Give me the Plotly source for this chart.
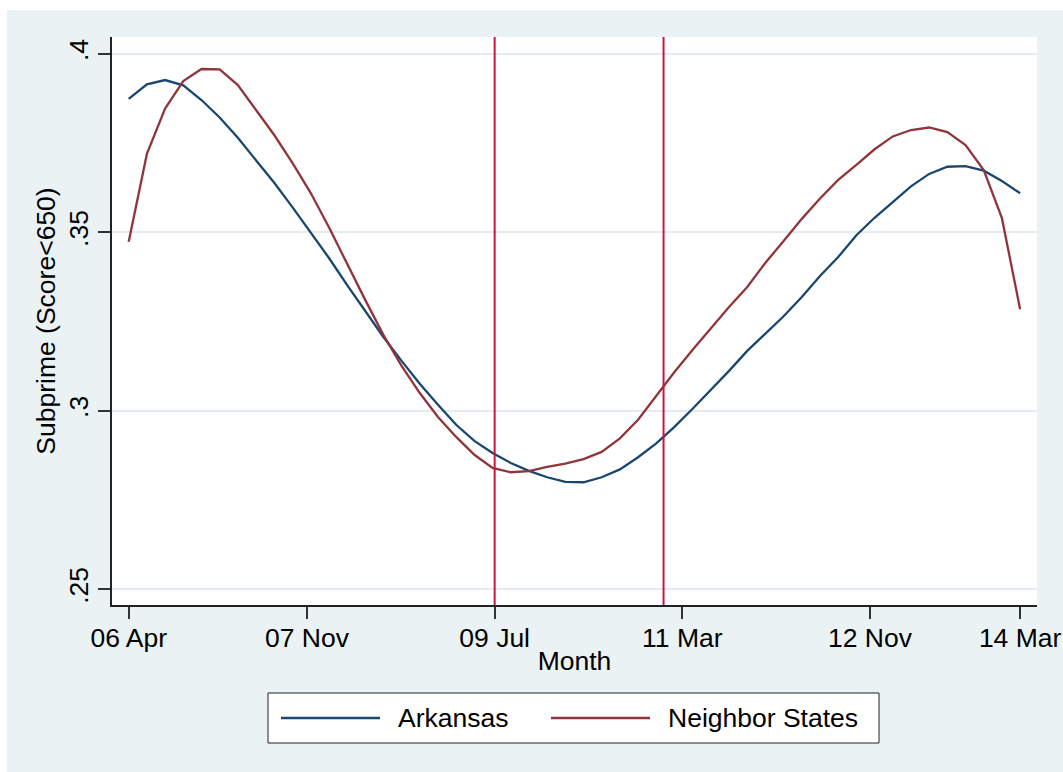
import numpy as np
import plotly.graph_objects as go

# Stata monthly dates (2006m4 = 555 ... 2014m3 = 650); smoothed on a 50-point grid
grid_start, grid_end, grid_n = 555, 650, 50
month_grid = np.linspace(grid_start, grid_end, grid_n)

arkansas = [
    0.3874, 0.3915, 0.3927, 0.3912, 0.3871, 0.3822, 0.3765, 0.3703, 0.3639, 0.3571,
    0.3499, 0.3429, 0.3353, 0.3280, 0.3207, 0.3140, 0.3076, 0.3017, 0.2961, 0.2916,
    0.2882, 0.2854, 0.2832, 0.2814, 0.2801, 0.2800, 0.2814, 0.2836, 0.2870, 0.2909,
    0.2955, 0.3006, 0.3059, 0.3112, 0.3168, 0.3216, 0.3265, 0.3319, 0.3378, 0.3431,
    0.3492, 0.3541, 0.3585, 0.3629, 0.3664, 0.3684, 0.3686, 0.3673, 0.3644, 0.3610,
]
neighbors = [
    0.3474, 0.3720, 0.3847, 0.3924, 0.3958, 0.3957, 0.3913, 0.3843, 0.3773, 0.3695,
    0.3611, 0.3515, 0.3412, 0.3311, 0.3213, 0.3126, 0.3050, 0.2983, 0.2927, 0.2877,
    0.2840, 0.2828, 0.2831, 0.2843, 0.2852, 0.2865, 0.2885, 0.2923, 0.2975, 0.3042,
    0.3109, 0.3171, 0.3232, 0.3291, 0.3347, 0.3415, 0.3476, 0.3538, 0.3595, 0.3647,
    0.3689, 0.3733, 0.3769, 0.3787, 0.3794, 0.3781, 0.3745, 0.3675, 0.3540, 0.3285,
]

x_tickvals = [555, 574, 594, 614, 634, 650]
x_ticktext = ["06 Apr", "07 Nov", "09 Jul", "11 Mar", "12 Nov", "14 Mar"]
y_tickvals = [0.25, 0.30, 0.35, 0.40]
y_ticktext = [".25", ".3", ".35", ".4"]
event_months = [594, 612]  # 2009m7, 2011m1

NAVY = "#1A476F"
MAROON = "#90353B"
XLINE = "#CC1443"
BG = "#EAF2F3"
GRID = "#E4ECEF"
FONT = "Liberation Sans, Arial, sans-serif"
FS = 26.5

fig = go.Figure()
fig.add_trace(go.Scatter(x=month_grid, y=arkansas, mode="lines", name="Arkansas",
                         line=dict(color=NAVY, width=2.3)))
fig.add_trace(go.Scatter(x=month_grid, y=neighbors, mode="lines", name="Neighbor States",
                         line=dict(color=MAROON, width=2.3)))

W, H = 1063, 772
ml, mr, mt, mb = 112, 26, 37, 167
pw, ph = W - ml - mr, H - mt - mb


def px(xp):
    return (xp - ml) / pw


def py(yp):
    return 1 - (yp - mt) / ph


shapes = []
# outer graph region
shapes.append(dict(type="rect", xref="paper", yref="paper", layer="below",
                   x0=px(7), x1=px(W + 5), y0=py(H + 5), y1=py(10),
                   fillcolor=BG, line=dict(width=0)))
shapes.append(dict(type="rect", xref="paper", yref="paper", layer="below",
                   x0=0, x1=1, y0=0, y1=1, fillcolor="white", line=dict(width=0)))
for m in event_months:
    shapes.append(dict(type="line", xref="x", yref="paper", x0=m, x1=m, y0=0, y1=1,
                       line=dict(color=XLINE, width=2)))

# legend box
lx0, lx1, ly0, ly1 = 268, 879, 693, 743
shapes.append(dict(type="rect", xref="paper", yref="paper",
                   x0=px(lx0), x1=px(lx1), y0=py(ly1), y1=py(ly0),
                   fillcolor="white", line=dict(color="#222222", width=1)))
legend_items = [("Arkansas", NAVY, 281, 380, 396), ("Neighbor States", MAROON, 551, 650, 666)]
annotations = []
ly = 718
for label, col, sx0, sx1, tx in legend_items:
    shapes.append(dict(type="line", xref="paper", yref="paper",
                       x0=px(sx0), x1=px(sx1), y0=py(ly), y1=py(ly),
                       line=dict(color=col, width=2.3)))
    annotations.append(dict(xref="paper", yref="paper", x=px(tx), y=py(ly),
                            xanchor="left", yanchor="middle", showarrow=False,
                            text=label, font=dict(family=FONT, size=FS, color="black")))

fig.update_layout(
    width=W, height=H, autosize=False,
    margin=dict(l=ml, r=mr, t=mt, b=mb, pad=0),
    paper_bgcolor="white", plot_bgcolor="rgba(0,0,0,0)",
    showlegend=False,
    font=dict(family=FONT, size=FS, color="black"),
    shapes=shapes, annotations=annotations,
    xaxis=dict(range=[553.22, 651.8], tickvals=x_tickvals, ticktext=x_ticktext,
               automargin=False, ticklabelstandoff=-4,
               ticks="outside", ticklen=12, tickwidth=1.5, tickcolor="#333333",
               showline=True, linecolor="#222222", linewidth=1.5,
               showgrid=False, zeroline=False,
               tickfont=dict(size=FS), title=dict(text="Month", font=dict(size=FS), standoff=0)),
    yaxis=dict(range=[0.2456, 0.40476], tickvals=y_tickvals, ticktext=y_ticktext,
               tickangle=-90, automargin=False,
               ticks="outside", ticklen=12, tickwidth=1.5, tickcolor="#333333",
               showline=True, linecolor="#222222", linewidth=1.5,
               showgrid=True, gridcolor=GRID, gridwidth=2, zeroline=False,
               tickfont=dict(size=FS),
               title=dict(text="Subprime (Score<650)", font=dict(size=FS), standoff=0)),
)

fig.write_html("out.html")
